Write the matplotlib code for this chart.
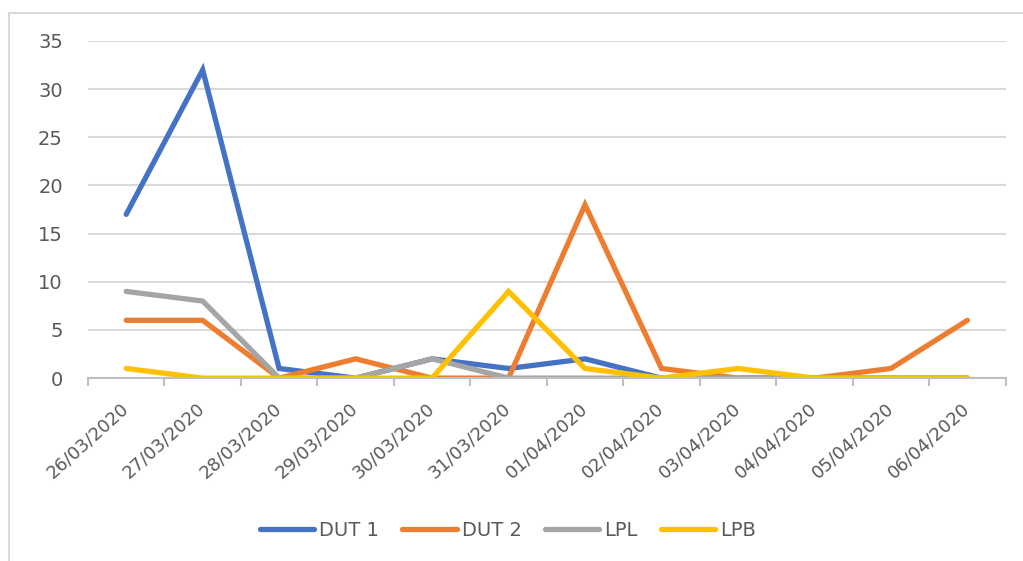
import numpy as np
import matplotlib.pyplot as plt
from matplotlib.patches import Rectangle

dates = ['26/03/2020', '27/03/2020', '28/03/2020', '29/03/2020', '30/03/2020', '31/03/2020',
         '01/04/2020', '02/04/2020', '03/04/2020', '04/04/2020', '05/04/2020', '06/04/2020']
dut1 = [17, 32, 1, 0, 2, 1, 2, 0, 0, 0, 0, 0]
dut2 = [6, 6, 0, 2, 0, 0, 18, 1, 0, 0, 1, 6]
lpl = [9, 8, 0, 0, 2, 0, 0, 0, 0, 0, 0, 0]
lpb = [1, 0, 0, 0, 0, 9, 1, 0, 1, 0, 0, 0]

plt.rcParams['font.family'] = ['DejaVu Sans']
txt = '#595959'

fig = plt.figure(figsize=(10.23, 5.61), dpi=100)
ax = fig.add_axes([0.086, 0.326, 0.897, 0.601])

# chart frame (only top/left edges show in the reference)
fig.patches.append(Rectangle((9 / 1023, -0.1), 1.2, 1 - 13 / 561 + 0.1, transform=fig.transFigure,
                             fill=False, edgecolor='#d9d9d9', lw=1.5))

x = np.arange(len(dates))
series = [('DUT 1', dut1, '#4472c4'), ('DUT 2', dut2, '#ed7d31'),
          ('LPL', lpl, '#a5a5a5'), ('LPB', lpb, '#ffc000')]
for name, vals, col in series:
    ax.plot(x, vals, color=col, lw=3.8, label=name, solid_capstyle='round', solid_joinstyle='miter')

ax.set_xlim(-0.5, len(dates) - 0.5)
ax.set_ylim(0, 35)
ax.set_yticks(range(0, 36, 5))
ax.grid(axis='y', color='#d9d9d9', lw=1.5)
ax.set_axisbelow(True)
for s in ['top', 'right', 'left']:
    ax.spines[s].set_visible(False)
ax.spines['bottom'].set_color('#bfbfbf')
ax.spines['bottom'].set_linewidth(1.5)

ax.set_xticks(x)
ax.set_xticklabels(dates, rotation=42, ha='right', va='center', rotation_mode='anchor')
ax.set_xticks(np.arange(-0.5, len(dates)), minor=True)
ax.tick_params(axis='x', which='major', length=0, labelsize=13, colors=txt, pad=20)
ax.tick_params(axis='x', which='minor', length=6, width=1.5, color='#bfbfbf')
ax.tick_params(axis='y', length=0, labelsize=14, colors=txt, pad=18)

fig.legend(loc='center', bbox_to_anchor=(508 / 1023, 1 - 530 / 561),
           ncol=4, frameon=False, fontsize=14, labelcolor=txt, handlelength=2.8,
           handletextpad=0.25, columnspacing=1.2)

fig.savefig('out.png', dpi=100)
